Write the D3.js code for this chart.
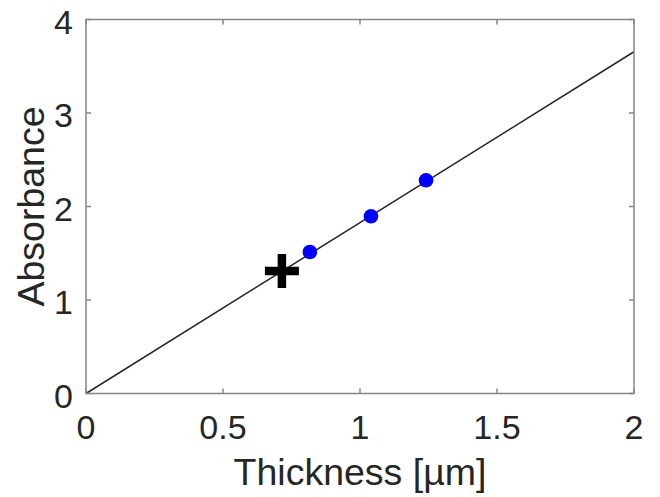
<!DOCTYPE html>
<html><head><meta charset="utf-8">
<script src="https://cdn.jsdelivr.net/npm/d3@7"></script>
<style>body{margin:0;background:#fff}svg{display:block}text{font-family:"Liberation Sans",Arial,sans-serif;fill:#262626}</style>
</head><body>
<script>
const xTicks = [0, 0.5, 1, 1.5, 2];
const yTicks = [0, 1, 2, 3, 4];
const thickness = [0.817, 1.04, 1.241];
const absorbance = [1.513, 1.895, 2.28];
const fitX = [0, 2];
const fitY = [0, 3.655];
const unknownX = [0.715];
const unknownY = [1.31];

const W = 660, H = 497;
const m = {left: 86, right: 26, top: 19.5, bottom: 103.5};
const svg = d3.select("body").append("svg").attr("width", W).attr("height", H);
const x = d3.scaleLinear().domain([0, 2]).range([m.left, W - m.right]);
const y = d3.scaleLinear().domain([0, 4]).range([H - m.bottom, m.top]);
const axisColor = "#868686";

const g = svg.append("g");
g.append("path").datum(fitX.map((v, i) => [v, fitY[i]]))
  .attr("d", d3.line().x(d => x(d[0])).y(d => y(d[1])))
  .attr("stroke", "#262626").attr("stroke-width", 1.5).attr("fill", "none");
g.selectAll("circle").data(thickness).join("circle")
  .attr("cx", d => x(d)).attr("cy", (d, i) => y(absorbance[i]))
  .attr("r", 7.3).attr("fill", "#0000ff");
unknownX.forEach((v, i) => {
  const cx = x(v), cy = y(unknownY[i]);
  g.append("path").attr("d", `M${cx-17},${cy}H${cx+17}M${cx},${cy-17}V${cy+17}`)
    .attr("stroke", "#000").attr("stroke-width", 8.5).attr("fill", "none");
});

const bx = svg.append("g").attr("stroke", axisColor).attr("stroke-width", 1.5).attr("fill", "none");
bx.append("rect").attr("x", x(0)).attr("y", y(4)).attr("width", x(2) - x(0)).attr("height", y(0) - y(4));
xTicks.forEach(t => {
  bx.append("line").attr("x1", x(t)).attr("x2", x(t)).attr("y1", y(0)).attr("y2", y(0) - 5);
  bx.append("line").attr("x1", x(t)).attr("x2", x(t)).attr("y1", y(4)).attr("y2", y(4) + 5);
});
yTicks.forEach(t => {
  bx.append("line").attr("y1", y(t)).attr("y2", y(t)).attr("x1", x(0)).attr("x2", x(0) + 5);
  bx.append("line").attr("y1", y(t)).attr("y2", y(t)).attr("x1", x(2)).attr("x2", x(2) - 5);
});

svg.selectAll(".xt").data(xTicks).join("text").attr("class", "xt")
  .attr("x", d => x(d)).attr("y", y(0) + 45.5).attr("text-anchor", "middle")
  .attr("font-size", 34).text(d => d);
svg.selectAll(".yt").data(yTicks).join("text").attr("class", "yt")
  .attr("x", x(0) - 13).attr("y", d => y(d) + 14).attr("text-anchor", "end")
  .attr("font-size", 34).text(d => d);

svg.append("text").attr("x", (x(0) + x(2)) / 2).attr("y", 485).attr("text-anchor", "middle")
  .attr("font-size", 37.5).text("Thickness [µm]");
svg.append("text").attr("transform", `translate(44,${(y(0) + y(4)) / 2}) rotate(-90)`)
  .attr("text-anchor", "middle").attr("font-size", 37.5).text("Absorbance");
</script>
</body></html>
